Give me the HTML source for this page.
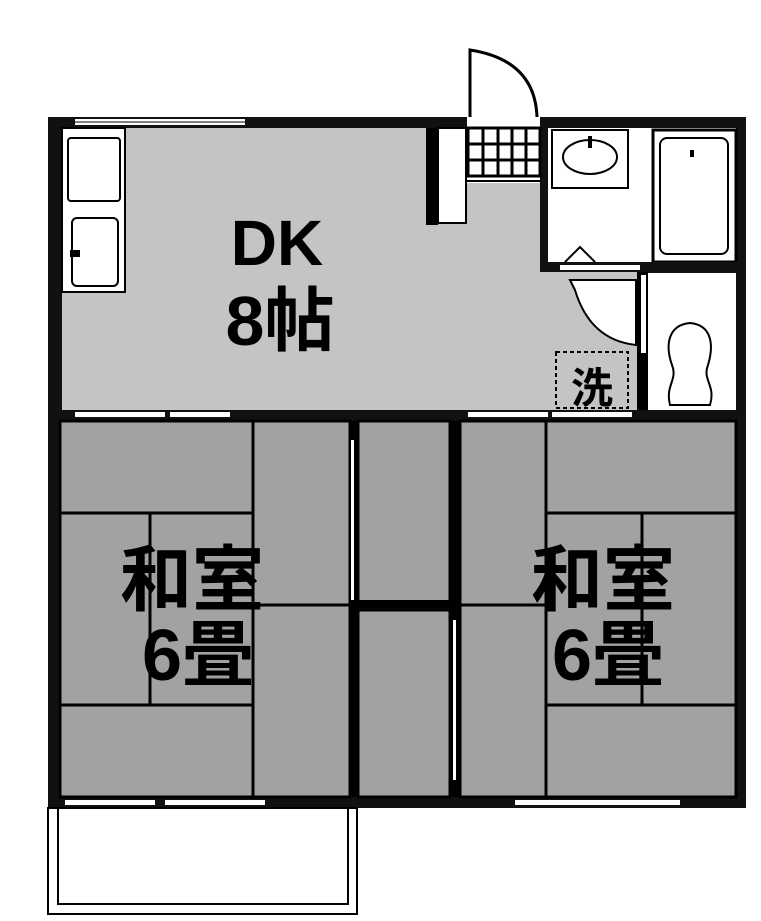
<!DOCTYPE html>
<html><head><meta charset="utf-8"><style>
html,body{margin:0;padding:0;background:#fff;}
svg{display:block}
text{font-family:"Liberation Sans","Noto Sans CJK JP",sans-serif;font-weight:bold;fill:#000}
</style></head><body>
<svg width="761" height="921" viewBox="0 0 761 921" xmlns="http://www.w3.org/2000/svg">
<rect x="48" y="117" width="698" height="691" fill="#111"/>
<!-- DK -->
<rect x="62" y="128" width="478" height="282" fill="#c4c4c4"/>
<rect x="540" y="272" width="97" height="138" fill="#c4c4c4"/>
<!-- counter -->
<rect x="62" y="128" width="63" height="164" fill="#fff" stroke="#000" stroke-width="2"/>
<rect x="68" y="138" width="52" height="63" rx="3" fill="#fff" stroke="#000" stroke-width="2"/>
<rect x="72" y="218" width="46" height="68" rx="5" fill="#fff" stroke="#000" stroke-width="2"/>
<rect x="70" y="250" width="10" height="7" fill="#000"/>
<rect x="75" y="119" width="170" height="6" fill="#fff"/>
<line x1="75" y1="122" x2="245" y2="122" stroke="#000" stroke-width="1"/>
<!-- column -->
<rect x="426" y="128" width="12" height="97" fill="#000"/>
<rect x="438" y="128" width="28" height="95" fill="#fff" stroke="#000" stroke-width="2"/>
<!-- entry -->
<rect x="467" y="117" width="73" height="66" fill="#fff"/>
<g stroke="#000" stroke-width="3" fill="none">
<rect x="468" y="128" width="72" height="48"/>
<line x1="483" y1="128" x2="483" y2="176"/><line x1="498" y1="128" x2="498" y2="176"/>
<line x1="512" y1="128" x2="512" y2="176"/><line x1="526" y1="128" x2="526" y2="176"/>
<line x1="468" y1="144" x2="540" y2="144"/><line x1="468" y1="160" x2="540" y2="160"/>
</g>
<line x1="467" y1="181" x2="540" y2="181" stroke="#000" stroke-width="2"/>
<path d="M470 117 V50 Q535 60 537 117" fill="none" stroke="#000" stroke-width="3"/>
<!-- wash room -->
<rect x="548" y="128" width="188" height="134" fill="#fff"/>
<rect x="552" y="130" width="76" height="58" fill="#fff" stroke="#000" stroke-width="2"/>
<ellipse cx="590" cy="157" rx="27" ry="17" fill="none" stroke="#000" stroke-width="2"/>
<rect x="588" y="136" width="4" height="12" fill="#000"/>
<path d="M565 262 L580 247 L595 262" fill="none" stroke="#000" stroke-width="2"/>
<rect x="653" y="130" width="83" height="132" fill="#fff" stroke="#000" stroke-width="3"/>
<rect x="660" y="138" width="68" height="116" rx="7" fill="none" stroke="#000" stroke-width="2"/>
<rect x="690" y="150" width="4" height="7" fill="#000"/>
<rect x="540" y="262" width="206" height="10" fill="#111"/>
<rect x="560" y="265" width="80" height="5" fill="#fff"/>
<!-- toilet -->
<rect x="648" y="273" width="88" height="137" fill="#fff"/>
<rect x="637" y="272" width="11" height="138" fill="#000"/>
<rect x="641" y="275" width="5" height="78" fill="#fff"/>
<path d="M670 405 C665 385 678 380 672 365 C665 345 668 325 690 323 C712 325 714 345 708 365 C702 380 716 385 710 405 Z" fill="#fff" stroke="#000" stroke-width="2"/>
<path d="M570 280 H636 V345 Q590 340 575 290 Z" fill="#fff" stroke="#000" stroke-width="2"/>
<rect x="556" y="352" width="72" height="56" fill="none" stroke="#000" stroke-width="2" stroke-dasharray="4 3"/>
<text x="592" y="403" font-size="42" text-anchor="middle">洗</text>
<text x="277" y="265" font-size="64" text-anchor="middle">DK</text>
<text x="280" y="345" font-size="70" text-anchor="middle">8帖</text>
<rect x="75" y="412" width="90" height="5" fill="#fff"/>
<rect x="170" y="412" width="60" height="5" fill="#fff"/>
<rect x="468" y="412" width="80" height="5" fill="#fff"/>
<rect x="552" y="412" width="80" height="5" fill="#fff"/>
<g fill="#a2a2a2" stroke="#000" stroke-width="3">
<rect x="60" y="421" width="193" height="92"/>
<rect x="253" y="421" width="97" height="184"/>
<rect x="253" y="605" width="97" height="192"/>
<rect x="60" y="513" width="90" height="192"/>
<rect x="150" y="513" width="103" height="192"/>
<rect x="60" y="705" width="193" height="92"/>
<rect x="358" y="421" width="92" height="184"/>
<rect x="358" y="610" width="92" height="187"/>
<rect x="460" y="421" width="86" height="184"/>
<rect x="460" y="605" width="86" height="192"/>
<rect x="546" y="421" width="190" height="92"/>
<rect x="546" y="513" width="96" height="192"/>
<rect x="642" y="513" width="94" height="192"/>
<rect x="546" y="705" width="190" height="92"/>
</g>
<rect x="349" y="421" width="9" height="376" fill="#000"/>
<rect x="450" y="421" width="10" height="376" fill="#000"/>
<rect x="351" y="440" width="3" height="160" fill="#fff"/>
<rect x="453" y="620" width="3" height="160" fill="#fff"/>
<rect x="350" y="600" width="110" height="8" fill="#000"/>
<g font-size="72" text-anchor="middle">
<text x="192" y="605">和室</text>
<text x="198" y="680">6畳</text>
<text x="603" y="605">和室</text>
<text x="608" y="680">6畳</text>
</g>
<rect x="65" y="800" width="90" height="5" fill="#fff"/>
<rect x="165" y="800" width="100" height="5" fill="#fff"/>
<rect x="515" y="800" width="90" height="5" fill="#fff"/>
<rect x="600" y="800" width="80" height="5" fill="#fff"/>
<rect x="48" y="808" width="309" height="106" fill="#fff" stroke="#000" stroke-width="2"/>
<rect x="58" y="808" width="290" height="96" fill="none" stroke="#000" stroke-width="2"/>
</svg>
</body></html>
